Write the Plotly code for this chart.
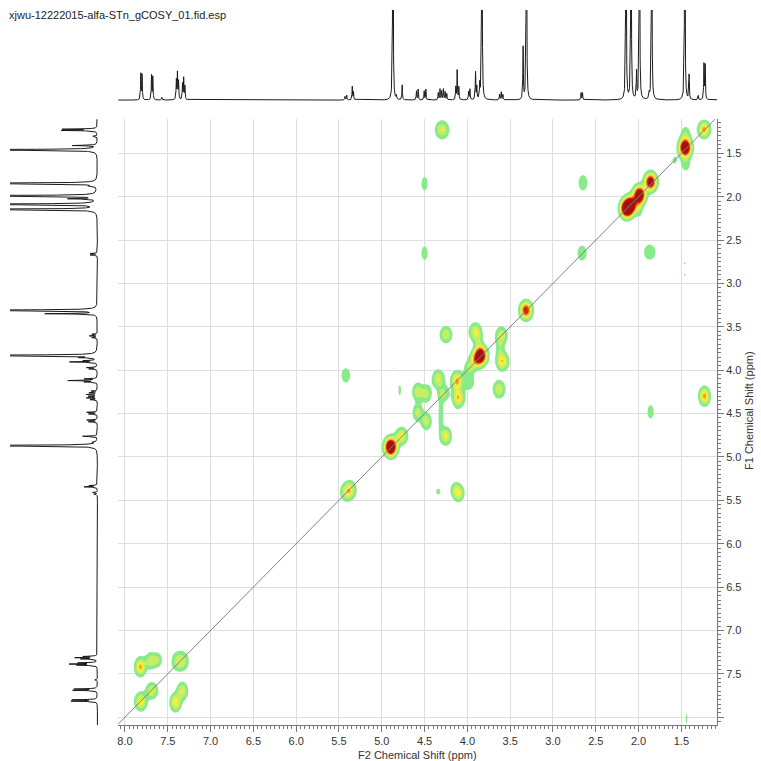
import numpy as np
import plotly.graph_objects as go

title_text = "xjwu-12222015-alfa-STn_gCOSY_01.fid.esp"

# ---- 1D proton projection: peak positions (ppm) and relative heights ----
h1_ppm = [7.815, 7.800, 7.690, 7.675, 7.57, 7.400, 7.387, 7.374, 7.328, 7.314, 7.300,
          5.43, 5.41, 5.345, 5.33, 4.87, 4.83, 4.762, 4.595, 4.575, 4.505, 4.485,
          4.34, 4.32, 4.30, 4.28, 4.26, 4.24, 4.135, 4.119, 4.10, 3.985, 3.97,
          3.905, 3.89, 3.855, 3.83, 3.625, 3.605, 3.585, 3.349, 3.31,
          2.672, 2.655, 2.147, 2.088, 2.024, 1.99, 1.875, 1.847, 1.46, 1.41, 1.303,
          1.236, 1.222]
h1_height = [0.29, 0.28, 0.27, 0.26, 0.03, 0.22, 0.30, 0.20, 0.18, 0.24, 0.15,
             0.04, 0.055, 0.15, 0.09, 3.0, 0.04, 0.17, 0.10, 0.12, 0.10, 0.12,
             0.08, 0.12, 0.10, 0.12, 0.09, 0.07, 0.14, 0.33, 0.14, 0.09, 0.12,
             0.31, 0.14, 0.16, 3.0, 0.06, 0.09, 0.06, 0.58, 3.0,
             0.08, 0.08, 3.0, 3.0, 0.30, 3.0, 0.06, 3.0, 3.0, 0.28, 0.05,
             0.40, 0.38]

# ---- 2D gCOSY peaks: F2 (ppm), F1 (ppm), intensity, widths (ppm) ----
cosy_f2 = [1.235, 1.455, 1.45, 1.45, 1.58, 1.86, 1.99, 1.99, 2.095, 2.145, 2.66,
           3.315, 3.60, 3.84, 3.90, 3.98, 4.12, 4.28, 4.77, 4.895,
           5.37, 5.42, 7.32, 7.39, 7.32, 7.39, 7.685, 7.815,
           4.295, 1.23, 2.65, 1.87, 1.46, 1.46, 1.44, 4.50, 4.50, 1.86,
           3.91, 4.25, 3.59, 4.34, 4.10, 3.98, 3.63, 4.58, 4.48, 4.58, 4.48,
           4.25, 4.79, 5.42, 4.86, 4.14, 4.10, 4.34,
           7.82, 7.70, 7.62, 7.41, 7.33,
           3.62, 3.87, 4.12, 4.31, 4.31]
cosy_f1 = [1.225, 1.435, 1.28, 1.62, 1.58, 1.83, 1.98, 2.12, 2.10, 2.14, 2.65,
           3.31, 3.60, 3.83, 3.88, 3.98, 4.12, 4.27, 4.76, 4.885,
           5.38, 5.41, 7.32, 7.39, 7.39, 7.32, 7.695, 7.82,
           1.23, 4.30, 1.84, 2.64, 2.77, 2.90, 8.02, 1.85, 2.65, 4.48,
           3.56, 3.59, 3.90, 4.10, 4.32, 4.14, 4.22, 4.25, 4.27, 4.49, 4.59,
           4.76, 4.23, 4.06, 3.98, 5.38, 5.42, 5.40,
           7.42, 7.35, 7.34, 7.83, 7.70,
           3.74, 3.68, 4.25, 4.45, 4.62]
cosy_amp = [0.62, 1.4, 0.22, 0.2, 0.15, 1.1, 1.3, 0.2, 1.3, 1.2, 0.24,
            0.9, 0.35, 1.15, 0.55, 0.26, 0.52, 0.28, 0.5, 1.5,
            0.42, 0.28, 0.17, 0.18, 0.16, 0.16, 0.4, 0.5,
            0.42, 0.62, 0.22, 0.24, 0.13, 0.13, 0.14, 0.2, 0.2, 0.2,
            0.42, 0.4, 0.52, 0.42, 0.45, 0.22, 0.4, 0.38, 0.34, 0.32, 0.36,
            0.45, 0.16, 0.22, 0.12, 0.24, 0.4, 0.16,
            0.6, 0.38, 0.28, 0.52, 0.42,
            0.2, 0.2, 0.16, 0.15, 0.15]
cosy_wf2 = [0.045, 0.045, 0.04, 0.04, 0.025, 0.045, 0.045, 0.03, 0.045, 0.045, 0.04,
            0.045, 0.045, 0.045, 0.045, 0.04, 0.045, 0.045, 0.045, 0.045,
            0.045, 0.045, 0.045, 0.045, 0.045, 0.045, 0.045, 0.045,
            0.05, 0.04, 0.04, 0.05, 0.014, 0.014, 0.012, 0.03, 0.03, 0.03,
            0.045, 0.045, 0.045, 0.045, 0.045, 0.045, 0.045, 0.04, 0.04, 0.04, 0.04,
            0.04, 0.015, 0.04, 0.012, 0.04, 0.04, 0.025,
            0.04, 0.04, 0.035, 0.04, 0.04,
            0.035, 0.035, 0.03, 0.02, 0.02]
cosy_wf1 = [0.06, 0.065, 0.065, 0.065, 0.04, 0.065, 0.065, 0.08, 0.065, 0.065, 0.065,
            0.065, 0.065, 0.065, 0.065, 0.06, 0.065, 0.065, 0.06, 0.065,
            0.065, 0.065, 0.06, 0.06, 0.06, 0.06, 0.06, 0.065,
            0.065, 0.065, 0.07, 0.065, 0.018, 0.018, 0.07, 0.065, 0.065, 0.065,
            0.065, 0.06, 0.065, 0.065, 0.065, 0.065, 0.065, 0.065, 0.065, 0.065, 0.065,
            0.065, 0.06, 0.065, 0.012, 0.06, 0.06, 0.035,
            0.065, 0.06, 0.055, 0.065, 0.065,
            0.1, 0.1, 0.12, 0.12, 0.12]

x_tick_vals = [8.0, 7.5, 7.0, 6.5, 6.0, 5.5, 5.0, 4.5, 4.0, 3.5, 3.0, 2.5, 2.0, 1.5]
y_tick_vals = [1.5, 2.0, 2.5, 3.0, 3.5, 4.0, 4.5, 5.0, 5.5, 6.0, 6.5, 7.0, 7.5, 8.0]
y_tick_text = ["1.5", "2.0", "2.5", "3.0", "3.5", "4.0", "4.5", "5.0", "5.5", "6.0",
               "6.5", "7.0", "7.5", ""]

f2_range = [8.078, 1.084]
f1_range = [8.09, 1.108]

# ---- build 1D trace ----
ppm = np.linspace(1.0, 8.2, 6000)
w = 0.0035
spec = np.zeros_like(ppm)
for p, h in zip(h1_ppm, h1_height):
    spec += h * w * w / ((ppm - p) ** 2 + w * w)
spec = np.round(spec, 4)

# ---- build 2D map ----
grid = np.arange(1.0, 8.2, 0.01)
X, Y = np.meshgrid(grid, grid)
Z = np.zeros_like(X)
for a, b, A, sx, sy in zip(cosy_f2, cosy_f1, cosy_amp, cosy_wf2, cosy_wf1):
    Z += A * np.exp(-((X - a) ** 2 / (2 * sx * sx) + (Y - b) ** 2 / (2 * sy * sy)))
Z = np.round(Z, 3)

W, H = 761, 761
ml, mr, mt, mb = 0, 44, 0, 36
pw, ph = W - ml - mr, H - mt - mb

def px(xpix):
    return (xpix - ml) / pw

def py(ypix):
    return (H - mb - ypix) / ph

font_fam = "Liberation Sans, Arial, sans-serif"
tick_col = "#333333"

fig = go.Figure()

colors = ["rgba(255,255,255,0)", "#88ea88", "#c4ee66", "#f3ef3c", "#f8a21c", "#e8261a", "#a3120c"]
cscale = [[i / 6, c] for i, c in enumerate(colors)]

fig.add_trace(go.Contour(
    x=grid, y=grid, z=Z, autocontour=False,
    contours=dict(start=0.1, end=0.85, size=0.15, coloring="fill", showlines=False),
    colorscale=cscale, showscale=False, hoverinfo="skip", line=dict(width=0),
    xaxis="x", yaxis="y"))

fig.add_trace(go.Scatter(x=[8.2, 1.0], y=[8.2, 1.0], mode="lines",
                         line=dict(color="#808080", width=1), hoverinfo="skip",
                         xaxis="x", yaxis="y"))

fig.add_trace(go.Scatter(x=ppm, y=spec, mode="lines", line=dict(color="#1a1a1a", width=1),
                         hoverinfo="skip", xaxis="x2", yaxis="y2"))
fig.add_trace(go.Scatter(x=spec, y=ppm, mode="lines", line=dict(color="#1a1a1a", width=1),
                         hoverinfo="skip", xaxis="x3", yaxis="y3"))

main_dom_x = [px(118.3), 1.0]
main_dom_y = [0.0, py(119.3)]

fig.update_layout(
    width=W, height=H, margin=dict(l=ml, r=mr, t=mt, b=mb),
    paper_bgcolor="white", plot_bgcolor="white", showlegend=False,
    font=dict(family=font_fam, size=11, color=tick_col),
    xaxis=dict(domain=main_dom_x, range=f2_range, anchor="y",
               tickmode="array", tickvals=x_tick_vals, ticktext=[f"{v:.1f}" for v in x_tick_vals],
               ticks="outside", ticklen=6, tickcolor="#777", tickwidth=1,
               showline=True, linecolor="#777", linewidth=1, mirror=False,
               showgrid=True, gridcolor="#dedede", gridwidth=1, zeroline=False,
               minor=dict(tickmode="linear", tick0=0, dtick=0.05, ticks="outside", ticklen=3,
                          tickcolor="#777", showgrid=False),
               tickfont=dict(size=11, color=tick_col)),
    yaxis=dict(domain=main_dom_y, range=f1_range, anchor="x", side="right",
               tickmode="array", tickvals=y_tick_vals, ticktext=y_tick_text,
               ticks="outside", ticklen=6, tickcolor="#777", tickwidth=1,
               showline=True, linecolor="#777", linewidth=1, mirror=False,
               showgrid=True, gridcolor="#dedede", gridwidth=1, zeroline=False,
               minor=dict(tickmode="linear", tick0=0, dtick=0.05, ticks="outside", ticklen=3,
                          tickcolor="#777", showgrid=False),
               tickfont=dict(size=11, color=tick_col)),
    xaxis2=dict(domain=main_dom_x, matches="x", anchor="y2", visible=False),
    yaxis2=dict(domain=[py(101), py(10)], range=[-0.01, 1.0], anchor="x2", visible=False),
    xaxis3=dict(domain=[px(10), px(98.5)], range=[1.0, -0.012], anchor="y3", visible=False),
    yaxis3=dict(domain=main_dom_y, matches="y", anchor="x3", visible=False),
    annotations=[
        dict(text=title_text, x=px(7), y=py(15), xref="paper", yref="paper",
             xanchor="left", yanchor="middle", showarrow=False,
             font=dict(size=11, color="#222")),
        dict(text="F2 Chemical Shift (ppm)", x=px(417), y=py(755), xref="paper", yref="paper",
             xanchor="center", yanchor="middle", showarrow=False,
             font=dict(size=11, color=tick_col)),
        dict(text="F1 Chemical Shift (ppm)", x=px(749), y=py(410), xref="paper", yref="paper",
             xanchor="center", yanchor="middle", showarrow=False, textangle=-90,
             font=dict(size=11, color=tick_col)),
    ],
)

fig.write_html("out.html")
